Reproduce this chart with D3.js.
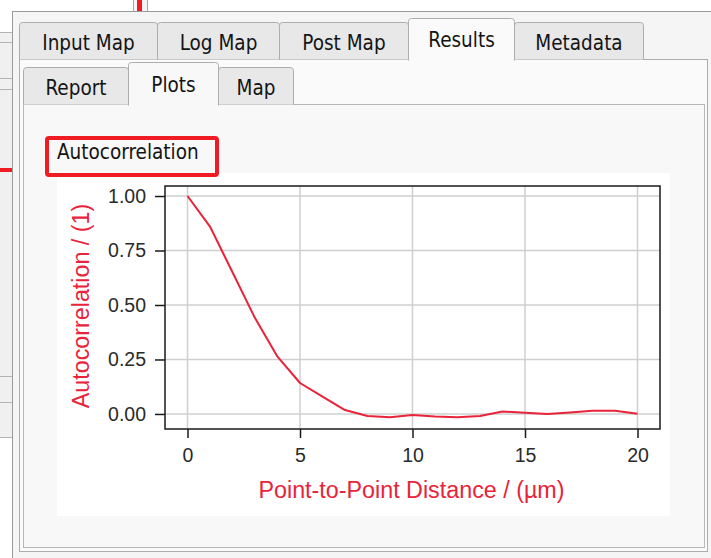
<!DOCTYPE html>
<html><head><meta charset="utf-8">
<script src="https://cdn.jsdelivr.net/npm/d3@7"></script>
<style>body{margin:0;background:#fff}svg{display:block}</style>
</head><body><svg id="c" width="711" height="558"></svg>
<script>
// ---- data ----
const distances = [0,1,2,3,4,5,6,7,8,9,10,11,12,13,14,15,16,17,18,19,20];
const autocorrelation = [1.0,0.86,0.65,0.44,0.263,0.142,0.08,0.018,-0.009,-0.015,-0.005,-0.012,-0.015,-0.009,0.011,0.006,0.0,0.007,0.015,0.015,0.001];
const xTicks = [0,5,10,15,20];
const yTicks = [0,0.25,0.5,0.75,1.0];
const topTabs = ["Input Map","Log Map","Post Map","Results","Metadata"];
const subTabs = ["Report","Plots","Map"];
const plotTitle = "Autocorrelation";
const xLabel = "Point-to-Point Distance / (\u00b5m)";
const yLabel = "Autocorrelation / (1)";

// ---- layout ----
const svg = d3.select("#c");
const uiFont = "'DejaVu Sans Condensed','DejaVu Sans',sans-serif";
const plotFont = "'Liberation Sans',Arial,sans-serif";
const border = "#adadad";
const red = "#e8233a";

// left strip & top area
svg.append("rect").attr("x",0).attr("y",0).attr("width",711).attr("height",558).attr("fill","#fff");
svg.append("rect").attr("x",0).attr("y",32).attr("width",12).attr("height",405).attr("fill","#f0f0f0");
[32,42,78,89,376,402,437].forEach(y=>svg.append("line").attr("x1",0).attr("x2",12).attr("y1",y+0.5).attr("y2",y+0.5).attr("stroke","#b4b4b4"));
svg.append("rect").attr("x",0).attr("y",168).attr("width",12).attr("height",4).attr("fill","#f01c24");
svg.append("rect").attr("x",133).attr("y",0).attr("width",14).attr("height",11).attr("fill","#f4f4f4");
svg.append("line").attr("x1",133.5).attr("x2",133.5).attr("y1",0).attr("y2",11).attr("stroke","#a8a8a8");
svg.append("line").attr("x1",147.5).attr("x2",147.5).attr("y1",0).attr("y2",11).attr("stroke","#a8a8a8");
svg.append("rect").attr("x",137).attr("y",0).attr("width",5).attr("height",11).attr("fill","#f01c24");

// window
svg.append("rect").attr("x",12.5).attr("y",11.5).attr("width",710).attr("height",560).attr("fill","#f5f5f5").attr("stroke","#9a9a9a");

// outer panel
svg.append("rect").attr("x",19.5).attr("y",59.5).attr("width",688).attr("height",492).attr("fill","#fafafa").attr("stroke",border);

function tabPath(x0,x1,top,bottom){
  const r=3;
  return `M${x0},${bottom} L${x0},${top+r} Q${x0},${top} ${x0+r},${top} L${x1-r},${top} Q${x1},${top} ${x1},${top+r} L${x1},${bottom}`;
}
function drawTabsOrdered(labels, edges, sel, topU, topS, bottom, baseU, baseS, panelFill){
  const order = labels.map((d,i)=>i).filter(i=>i!==sel).concat([sel]);
  order.forEach(i=>{
    const x0=edges[i]+0.5, x1=edges[i+1]+0.5;
    const s = i===sel;
    svg.append("path").attr("d",tabPath(x0,x1,s?topS:topU,s?bottom+1:bottom))
      .attr("fill",s?panelFill:"#e8e8e8").attr("stroke",border);
    svg.append("text").attr("x",(x0+x1)/2).attr("y",s?baseS:baseU).attr("text-anchor","middle")
      .attr("font-family",uiFont).attr("font-size",20.5).attr("fill","#141414").text(labels[i]);
  });
}
drawTabsOrdered(topTabs, [19,157,279,408,514,643], 3, 22.5, 18.5, 59.5, 50, 47, "#fafafa");

// sub panel
svg.append("rect").attr("x",23.5).attr("y",104.5).attr("width",681).attr("height",443).attr("fill","#f8f8f8").attr("stroke","#b8b8b8");
drawTabsOrdered(subTabs, [23,128,218,293], 1, 67.5, 62.5, 104.5, 95, 92, "#f8f8f8");

// figure background
svg.append("rect").attr("x",57).attr("y",173).attr("width",613).attr("height",343).attr("fill","#fff");

// title box
svg.append("rect").attr("x",47).attr("y",138).attr("width",170).attr("height",37).attr("rx",2)
  .attr("fill","none").attr("stroke","#f01c24").attr("stroke-width",4);
svg.append("text").attr("x",57).attr("y",159).attr("font-family",uiFont).attr("font-size",20.5)
  .attr("fill","#141414").text(plotTitle);

const x = d3.scaleLinear().domain([-1,21]).range([165,660]);
const y = d3.scaleLinear().domain([-0.069,1.046]).range([429,186]);

// grid
const grid = svg.append("g").attr("stroke","#cfcfcf").attr("stroke-width",1.5);
xTicks.forEach(v=>grid.append("line").attr("x1",x(v)).attr("x2",x(v)).attr("y1",186).attr("y2",429));
yTicks.forEach(v=>grid.append("line").attr("x1",165).attr("x2",660).attr("y1",y(v)).attr("y2",y(v)));

// line
svg.append("path").datum(distances.map((d,i)=>[d,autocorrelation[i]]))
  .attr("d",d3.line().x(d=>x(d[0])).y(d=>y(d[1])))
  .attr("fill","none").attr("stroke",red).attr("stroke-width",2).attr("stroke-linejoin","round");

// frame
svg.append("rect").attr("x",165).attr("y",186).attr("width",495).attr("height",243)
  .attr("fill","none").attr("stroke","#1a1a1a").attr("stroke-width",1.5);

// axes
const xa = svg.append("g").attr("transform","translate(0,429)")
  .call(d3.axisBottom(x).tickValues(xTicks).tickFormat(d3.format("d")).tickSize(9).tickPadding(10));
const ya = svg.append("g").attr("transform","translate(165,0)")
  .call(d3.axisLeft(y).tickValues(yTicks).tickFormat(d3.format(".2f")).tickSize(10).tickPadding(9));
[xa,ya].forEach(a=>{
  a.select(".domain").remove();
  a.selectAll(".tick line").attr("stroke","#1a1a1a").attr("stroke-width",1.5);
  a.selectAll(".tick text").attr("font-family",plotFont).attr("font-size",19.5).attr("fill","#2a2a2a");
});

// axis labels
svg.append("text").attr("x",411.5).attr("y",490).attr("text-anchor","middle").attr("dominant-baseline","central")
  .attr("font-family",plotFont).attr("font-size",23.3).attr("fill",red).text(xLabel);
svg.append("text").attr("transform","translate(81,306) rotate(-90)").attr("text-anchor","middle").attr("dominant-baseline","central")
  .attr("font-family",plotFont).attr("font-size",23.3).attr("fill",red).text(yLabel);
</script></body></html>
